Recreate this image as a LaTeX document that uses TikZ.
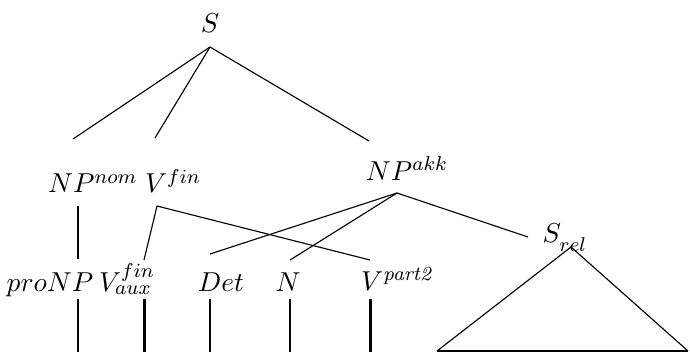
\documentclass[tikz,border=0pt,11pt]{standalone}
\usepackage{amsmath}
\usetikzlibrary{calc}

\begin{document}
\begin{tikzpicture}[x=0.4pt, y=-0.4pt,
    lbl/.style={anchor=base, inner sep=0pt},
    edge/.style={line width=0.45pt},
    stem/.style={line width=0.8pt},
    stemthick/.style={line width=1.2pt}]
      \useasboundingbox (0,0) rectangle (690,352);

      % labels
      \node[lbl] (S) at (210, 33) {$S$};
      \node[lbl] (NPnom) at (93, 193) {$NP^{nom}$};
      \node[lbl] (Vfin) at (173, 193) {$V^{fin}$};
      \node[lbl] (NPakk) at (407, 180) {$NP^{akk}$};
      \node[lbl] (proNP) at (50, 291) {$proNP$};
      \node[lbl] (Vaux) at (127, 291) {$V^{fin}_{aux}$};
      \node[lbl] (Det) at (221, 291) {$Det$};
      \node[lbl] (N) at (288, 291) {$N$};
      \node[lbl] (Vpart) at (398, 290) {$V^{\mathit{part2}}$};
      \node[lbl] (Srel) at (565, 242) {$S_{\lower2pt\hbox{$\scriptstyle rel$}}$};

      % line ends
      \coordinate (Sbot) at (210, 47);
      \coordinate (NPnomTop) at (73, 139);
      \coordinate (VfinTop) at (155, 138);
      \coordinate (NPakkTop) at (369, 141);
      \coordinate (NPnomBot) at (78, 206);
      \coordinate (VfinBot) at (157, 206);
      \coordinate (NPakkBot) at (397, 193);
      \coordinate (proNPTop) at (78, 259);
      \coordinate (VauxTop) at (144, 260);
      \coordinate (DetTop) at (210, 254);
      \coordinate (NTop) at (290, 260);
      \coordinate (VpartTop) at (370, 260);
      \coordinate (SrelTop) at (528, 237);
      \coordinate (SrelBot) at (571, 247);
      \coordinate (TriL) at (437, 351);
      \coordinate (TriR) at (688, 351);

      \draw[edge] (Sbot) -- (NPnomTop);
      \draw[edge] (Sbot) -- (VfinTop);
      \draw[edge] (Sbot) -- (NPakkTop);

      \draw[stem] (NPnomBot) -- (proNPTop);
      \draw[edge] (VfinBot) -- (VauxTop);
      \draw[edge] (VfinBot) -- (VpartTop);
      \draw[edge] (NPakkBot) -- (DetTop);
      \draw[edge] (NPakkBot) -- (NTop);
      \draw[edge] (NPakkBot) -- (SrelTop);

      % triangle under S_rel
      \draw[edge] (TriL) -- (SrelBot) -- (TriR);
      \draw[stem] (TriL) -- (TriR);

      % stems below the words
      \draw[stem] (78, 299) -- (78, 352);
      \draw[stemthick] (144, 299) -- (144, 352);
      \draw[stem] (210, 299) -- (210, 352);
      \draw[stem] (290, 299) -- (290, 352);
      \draw[stemthick] (370, 299) -- (370, 352);

\end{tikzpicture}
\end{document}
